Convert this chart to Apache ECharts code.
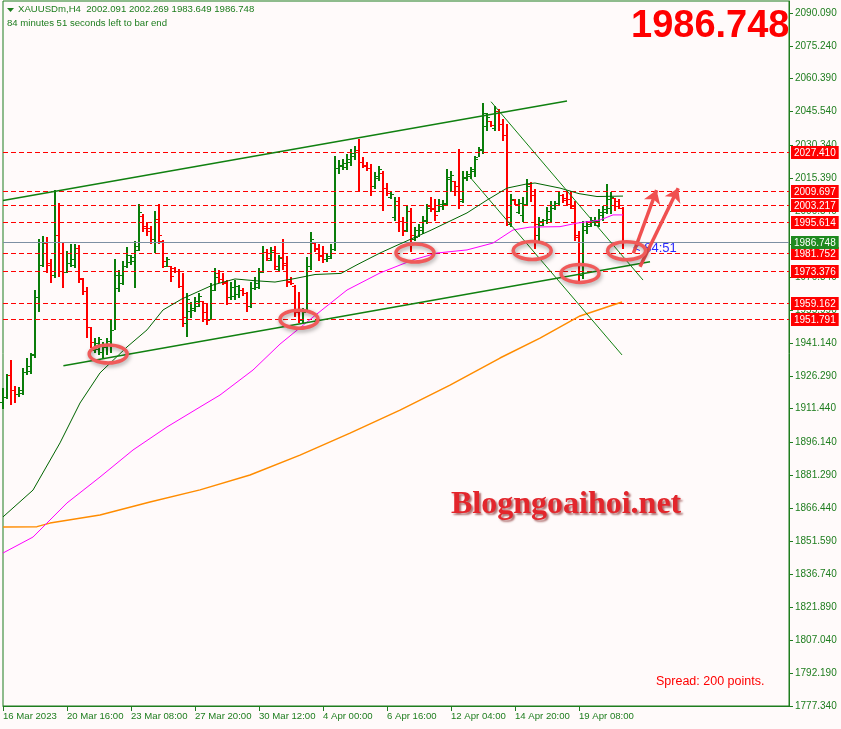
<!DOCTYPE html>
<html>
<head>
<meta charset="utf-8">
<script src="https://cdn.jsdelivr.net/npm/echarts@6/dist/echarts.min.js"></script>
<style>
html,body{margin:0;padding:0;background:#fffafa;}
#chart{width:841px;height:729px;}
</style>
</head>
<body>
<div id="chart"></div>
<script>
// ---------- DATA ----------
const tickLabels = ['16 Mar 2023','20 Mar 16:00','23 Mar 08:00','27 Mar 20:00','30 Mar 12:00','4 Apr 00:00','6 Apr 16:00','12 Apr 04:00','14 Apr 20:00','19 Apr 08:00'];
const barsPerLabel = 16;
const priceTicks = [2090.090,2075.240,2060.390,2045.540,2030.340,2015.390,2000.540,1985.690,1970.840,1955.990,1941.140,1926.290,1911.440,1896.140,1881.290,1866.440,1851.590,1836.740,1821.890,1807.040,1792.190,1777.340];

const open = [1914.5,1916.5,1926.5,1920.0,1918.0,1918.5,1928.0,1928.5,1935.5,1962.0,
1976.5,1986.0,1977.0,1972.0,1990.0,1981.5,1973.3,1977.0,1976.5,1984.0,
1970.0,1964.5,1948.3,1938.0,1938.5,1937.0,1939.5,1940.0,1947.0,1966.0,
1968.0,1976.0,1977.5,1978.0,1983.0,1998.5,1994.0,1993.0,1988.0,1997.0,
1987.0,1976.0,1976.0,1975.0,1973.5,1967.0,1950.0,1955.5,1956.0,1958.0,
1960.0,1955.0,1952.0,1965.0,1972.5,1970.0,1968.0,1962.0,1962.5,1963.0,
1965.0,1963.5,1958.0,1966.0,1966.5,1973.0,1982.0,1978.5,1983.0,1974.5,
1980.0,1977.0,1969.0,1967.0,1956.0,1951.5,1955.0,1976.0,1986.0,1984.0,
1981.0,1979.0,1979.5,1983.5,2020.0,2021.0,2020.5,2023.0,2025.5,2028.0,
2023.0,2021.5,2020.0,2012.0,2015.5,2018.0,2011.0,2007.0,1998.0,2005.0,
1996.0,1992.0,2000.5,1988.0,1989.0,1992.0,1996.0,2003.0,2002.0,2000.5,
2003.0,2004.0,2015.0,2014.0,2012.0,2005.0,2015.5,2016.5,2018.5,2025.0,
2028.0,2039.0,2041.5,2038.0,2046.0,2040.0,2035.0,1995.0,2005.5,2000.0,
1999.0,2004.0,2013.0,2008.0,1990.0,1994.5,1996.5,1997.0,2002.0,2003.5,
2008.0,2006.5,2006.0,2002.0,1989.0,1972.0,1992.0,1994.0,1995.5,1994.5,
1999.0,2000.0,2002.0,2006.5,2005.0,2002.091];
const high = [1920.6,1927.0,1933.3,1921.9,1921.2,1929.7,1934.2,1936.5,1965.1,1987.9,
1989.2,1988.8,1978.8,2010.1,2004.2,1986.5,1982.4,1985.6,1985.6,1985.1,
1970.6,1966.5,1948.3,1943.3,1943.8,1941.5,1943.3,1951.5,1979.2,1974.2,
1977.9,1984.2,1981.0,1987.0,2003.8,1999.2,1995.6,1993.8,2000.6,2003.8,
1987.5,1979.7,1976.0,1975.6,1974.7,1972.5,1963.8,1959.7,1962.0,1963.8,
1960.2,1959.2,1968.3,1975.1,1974.2,1972.9,1969.7,1968.8,1969.7,1967.4,
1966.0,1964.0,1968.8,1971.0,1975.1,1984.7,1983.3,1984.2,1984.7,1981.0,
1987.9,1980.2,1971.0,1967.4,1964.2,1957.0,1979.7,1991.0,1986.9,1985.6,
1984.7,1981.5,1985.6,2025.6,2023.8,2024.0,2026.5,2028.8,2030.0,2033.3,
2025.0,2022.9,2021.9,2018.3,2021.0,2018.5,2013.5,2009.2,2006.9,2006.9,
1998.0,2002.8,2002.0,1993.3,1994.7,1998.3,2003.8,2006.9,2006.0,2006.0,
2005.5,2019.7,2018.8,2014.2,2028.8,2018.8,2018.8,2020.6,2025.6,2029.7,
2049.2,2044.7,2041.5,2047.9,2046.9,2042.4,2040.1,2008.3,2006.0,2006.0,
2006.9,2015.1,2013.8,2010.6,1997.9,1997.0,2002.4,2005.1,2005.1,2009.7,
2008.3,2009.2,2009.7,2005.1,1991.5,1996.0,1996.0,1997.9,1997.9,2001.5,
2002.8,2012.9,2009.2,2006.5,2006.0,2002.269];
const low = [1911.5,1915.8,1912.9,1914.2,1916.9,1917.4,1926.5,1927.0,1934.2,1955.1,
1975.6,1972.9,1968.3,1970.6,1971.0,1966.0,1972.9,1975.6,1975.1,1968.3,
1962.9,1943.3,1938.8,1936.5,1935.6,1934.2,1935.6,1936.5,1947.0,1964.2,
1967.4,1975.1,1976.5,1966.0,1982.4,1991.0,1989.2,1985.6,1981.5,1985.6,
1975.1,1975.6,1968.8,1972.9,1966.0,1948.3,1943.8,1952.4,1955.1,1957.4,
1950.6,1949.2,1951.5,1964.5,1968.3,1967.4,1958.3,1960.6,1960.6,1961.5,
1962.5,1955.1,1957.0,1965.1,1965.5,1972.5,1977.9,1977.9,1974.2,1973.3,
1974.2,1966.5,1967.4,1952.9,1950.2,1950.2,1955.0,1974.2,1982.0,1977.9,
1977.4,1977.5,1979.0,1982.5,2017.5,2019.0,2019.0,2021.0,2023.5,2009.7,
2020.0,2018.8,2007.4,2010.6,2014.2,2000.6,2007.4,2006.0,1996.0,1991.0,
1989.2,1991.0,1982.0,1987.0,1988.8,1990.5,1995.0,2000.0,1996.0,2000.0,
2001.0,2003.0,2009.2,2007.4,2001.5,2004.5,2014.0,2015.1,2016.0,2025.0,
2026.5,2037.0,2038.5,2037.0,2037.0,2032.4,1993.8,1993.3,2003.5,1999.2,
1995.6,2003.0,2004.7,1983.3,1987.0,1993.8,1995.0,1995.5,2001.0,2003.0,
2004.5,2002.8,2001.5,1987.0,1968.8,1970.0,1990.5,1993.3,1994.0,1993.3,
1996.0,1999.5,1999.2,2000.6,2001.5,1983.649];
const close = [1916.8,1926.8,1920.0,1918.0,1919.9,1928.0,1930.5,1936.0,1962.0,1976.5,
1986.0,1976.5,1972.0,1990.0,1981.5,1973.3,1977.4,1979.0,1984.0,1970.5,
1964.5,1948.3,1941.5,1941.0,1943.0,1940.5,1942.0,1947.0,1972.0,1972.0,
1976.0,1981.0,1980.0,1985.0,2000.0,1993.0,1991.5,1988.0,1997.0,1990.0,
1978.0,1979.0,1971.5,1973.5,1967.0,1953.0,1961.0,1957.0,1960.0,1962.5,
1955.0,1951.5,1965.0,1971.0,1970.0,1968.5,1962.0,1966.5,1967.0,1965.0,
1963.5,1958.0,1966.0,1968.0,1973.0,1982.0,1979.5,1982.0,1976.0,1979.5,
1976.5,1968.5,1968.0,1955.0,1951.5,1955.0,1976.0,1988.0,1983.5,1980.5,
1979.0,1980.5,1983.5,2020.0,2021.5,2022.5,2024.0,2027.0,2028.0,2023.0,
2021.0,2020.0,2012.0,2016.5,2019.5,2011.0,2009.0,2008.5,2005.0,1996.0,
1991.5,2000.5,1990.0,1992.0,1993.5,1996.5,2002.0,2001.5,1999.0,2004.0,
2004.5,2016.0,2017.0,2009.5,2006.0,2016.0,2017.5,2019.5,2024.0,2028.5,
2045.0,2043.0,2039.5,2046.0,2040.0,2035.0,1998.0,2006.0,2004.0,2004.5,
2004.0,2012.0,2008.0,1995.0,1996.0,1996.5,2000.5,2003.5,2004.5,2008.0,
2005.5,2004.0,2003.0,1990.0,1972.0,1994.0,1995.0,1996.5,1996.0,2000.0,
2001.5,2006.0,2007.0,2003.0,2002.1,1986.748];

// moving averages: [bar index, price]
const maGreen = [[0,1862.6],[7.5,1874.7],[14.25,1896.0],[19.25,1914.0],[24.25,1927.6],[31,1939.3],[36,1947.0],[38,1951.5],[40,1956.0],[44.75,1961.0],[52.5,1967.3],[58,1970.0],[63,1969.2],[68,1968.6],[73,1970.2],[78,1972.0],[84.5,1972.5],[88.5,1976.4],[94.25,1981.7],[98.5,1985.2],[106.75,1991.8],[116,1999.8],[121,2005.6],[126,2011.0],[131,2012.9],[133,2013.3],[139.25,2011.0],[144,2008.5],[148.5,2007.2],[155,2007.4]];
const maMagenta = [[0,1846.3],[7.5,1853.5],[16,1868.9],[24.25,1880.6],[32.5,1892.8],[41,1903.2],[49.25,1912.2],[54.25,1917.6],[62.5,1928.9],[69.25,1940.6],[78,1953.5],[86,1965.0],[94.25,1972.7],[102.5,1978.6],[108.5,1981.7],[116,1983.1],[122.5,1986.2],[127.5,1992.1],[131.75,1993.4],[139.25,1993.6],[143.5,1995.2],[149.25,1996.6],[152.5,1998.9],[155,1998.9]];
const maOrange = [[0,1858.0],[8.5,1858.2],[11.75,1859.8],[24.25,1863.5],[36.75,1869.3],[49.25,1874.8],[61.75,1881.5],[74.25,1890.5],[86.75,1900.4],[99.25,1910.8],[111.75,1922.1],[124.25,1934.3],[134.25,1943.3],[144.25,1953.3],[154.75,1959.6]];

// horizontal levels
const levels = [2027.410,2009.697,2003.217,1995.614,1981.752,1973.376,1959.162,1951.791];
const lastPrice = [1986.748];

// drawn trend lines [[bar, price],[bar, price]]
const channelUpper = [[0,2005.4],[141,2050.3]];
const channelLower = [[15.1,1930.8],[161.75,1977.8]];
const fallLineA = [[122,2050.0],[160,1969.5]];
const fallLineB = [[117,2015.4],[154.75,1935.7]];

// annotations
const circles = [[26.3,1936.1],[74,1951.8],[103,1981.7],[132.3,1982.8],[144.25,1972.5],[155.9,1982.7]];
const arrows = [[[157.6,1981.6],[163.4,2010.1]],[[159.25,1975.5],[168.8,2010.9]]];

// ---------- CHART ----------
const UP = '#0a7d0a', DOWN = '#ff0000', AX = '#1e7d1e';
const FONT = "'Liberation Sans', Arial, sans-serif";
const X_MIN = 0, X_MAX = 196.5;
const bars = open.map((o,i)=>[i,o,high[i],low[i],close[i]]);
const xTicks = tickLabels.map((_,i)=>i*barsPerLabel);

function renderBar(params, api){
  const i = api.value(0), o = api.value(1), h = api.value(2), l = api.value(3), c = api.value(4);
  const pH = api.coord([i,h]), pL = api.coord([i,l]), pO = api.coord([i,o]), pC = api.coord([i,c]);
  const x = Math.round(pH[0]);
  const col = c >= o ? UP : DOWN;
  const yH = Math.round(pH[1]), yL = Math.round(pL[1]);
  return {type:'group', children:[
    {type:'rect', shape:{x:x-1, y:yH, width:2, height:Math.max(1,yL-yH)}, style:{fill:col}},
    {type:'rect', shape:{x:x-3, y:Math.round(pO[1]), width:2, height:1}, style:{fill:col}},
    {type:'rect', shape:{x:x+1, y:Math.round(pC[1]), width:2, height:1}, style:{fill:col}}
  ]};
}
function renderCircle(params, api){
  const p = api.coord([api.value(0), api.value(1)]);
  return {type:'ellipse', shape:{cx:p[0], cy:p[1], rx:19, ry:9},
    style:{fill:null, stroke:'#f05a5a', lineWidth:3.5, shadowBlur:4, shadowColor:'rgba(0,0,0,0.35)', shadowOffsetX:1, shadowOffsetY:2}};
}
function levelRenderer(lineColor, dash, boxColor){
  return function(params, api){
    const v = api.value(0);
    const p = api.coord([X_MIN, v]);
    const cs = params.coordSys;
    const y = Math.round(p[1]) + 0.5;
    return {type:'group', children:[
      {type:'line', shape:{x1:cs.x, y1:y, x2:cs.x+cs.width, y2:y},
        style:{stroke:lineColor, lineWidth:1, lineDash:dash}},
      {type:'text', x:cs.x+cs.width+2, y:Math.round(p[1])-6,
        style:{text:v.toFixed(3), fill:'#ffffff', backgroundColor:boxColor, padding:[2,3,1,3],
          font:'10px '+FONT, verticalAlign:'top', align:'left'}}
    ]};
  };
}

const chart = echarts.init(document.getElementById('chart'), null, {renderer:'canvas'});
chart.setOption({
  animation:false,
  backgroundColor:'#fffafa',
  grid:{left:3, right:52, top:1, bottom:23, show:true, borderColor:AX, borderWidth:1, backgroundColor:'transparent'},
  xAxis:{type:'value', min:X_MIN, max:X_MAX,
    axisLine:{show:true, onZero:false, lineStyle:{color:AX}},
    axisTick:{show:true, customValues:xTicks, length:5, lineStyle:{color:AX}},
    axisLabel:{customValues:xTicks, formatter:v=>tickLabels[Math.round(v/barsPerLabel)]||'', align:'left', margin:5, color:AX, fontSize:9.6, fontFamily:FONT},
    splitLine:{show:false}},
  yAxis:{type:'value', position:'right', min:1777.25, max:2095.45,
    axisLine:{show:true, onZero:false, lineStyle:{color:AX}},
    axisTick:{show:true, customValues:priceTicks, length:4, lineStyle:{color:AX}},
    axisLabel:{customValues:priceTicks, formatter:v=>v.toFixed(3), margin:6, color:AX, fontSize:10, fontFamily:FONT},
    splitLine:{show:false}},
  series:[
    {type:'custom', name:'bars', data:bars, renderItem:renderBar, encode:{x:0, y:[1,2,3,4]}, z:2, silent:true},
    {type:'custom', name:'levels', data:levels.map(v=>[v]), renderItem:levelRenderer('#ff0000',[5,3],'#ff0000'), encode:{y:0}, clip:false, z:3, silent:true},
    {type:'custom', name:'last price', data:lastPrice.map(v=>[v]), renderItem:levelRenderer('#7d8fa3',null,'#1f8a1f'), encode:{y:0}, clip:false, z:3, silent:true},
    {type:'line', name:'MA orange', data:maOrange, showSymbol:false, lineStyle:{color:'#ff8c00', width:1.5}, z:3, silent:true},
    {type:'line', name:'MA magenta', data:maMagenta, showSymbol:false, lineStyle:{color:'#ff00ff', width:1}, z:3, silent:true},
    {type:'line', name:'MA green', data:maGreen, showSymbol:false, lineStyle:{color:'#006400', width:1}, z:3, silent:true},
    {type:'line', name:'channel upper', data:channelUpper, showSymbol:false, lineStyle:{color:'#108010', width:1.5}, z:4, silent:true},
    {type:'line', name:'channel lower', data:channelLower, showSymbol:false, lineStyle:{color:'#108010', width:1.5}, z:4, silent:true},
    {type:'line', name:'fall A', data:fallLineA, showSymbol:false, lineStyle:{color:'#108010', width:1}, z:4, silent:true},
    {type:'line', name:'fall B', data:fallLineB, showSymbol:false, lineStyle:{color:'#108010', width:1}, z:4, silent:true,
      markLine:{silent:true, symbol:['none','arrow'], symbolSize:13, label:{show:false},
        lineStyle:{color:'#f05050', width:3.5, type:'solid'},
        data:arrows.map(a=>[{coord:a[0]},{coord:a[1]}])}},
    {type:'custom', name:'circles', data:circles, renderItem:renderCircle, clip:false, z:6, silent:true}
  ],
  graphic:[
    {type:'polygon', shape:{points:[[7,8],[14,8],[10.5,12]]}, style:{fill:AX}},
    {type:'text', left:18, top:4, style:{text:'XAUUSDm,H4  2002.091 2002.269 1983.649 1986.748', fill:AX, font:'9.6px '+FONT}},
    {type:'text', left:7, top:18, style:{text:'84 minutes 51 seconds left to bar end', fill:AX, font:'9.6px '+FONT}},
    {type:'text', left:631, top:8, style:{text:'1986.748', fill:'#ff0000', font:'bold 38px '+FONT}},
    {type:'text', left:451, top:489, style:{text:'Blogngoaihoi.net', fill:'#e3262c', font:"bold 32px 'Liberation Serif', 'Times New Roman', serif",
      textShadowColor:'rgba(110,0,0,0.55)', textShadowOffsetX:2, textShadowOffsetY:2, textShadowBlur:2}},
    {type:'text', left:656, top:675, style:{text:'Spread: 200 points.', fill:'#ff0000', font:'12.5px '+FONT}},
    {type:'text', left:633, top:242, style:{text:'< 84:51', fill:'#2a2aff', font:'13px '+FONT}}
  ]
});
</script>
</body>
</html>
